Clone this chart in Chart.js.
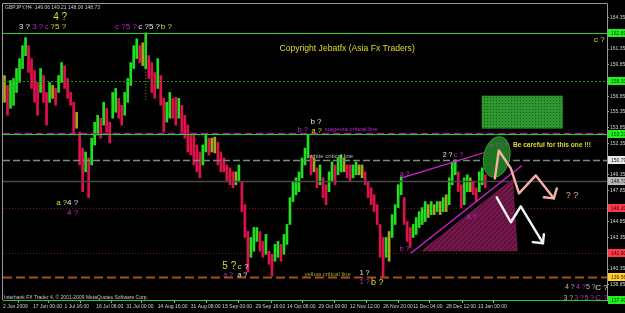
<!DOCTYPE html>
<html>
<head>
<meta charset="utf-8">
<script src="https://cdn.jsdelivr.net/npm/chart.js@4.4.1/dist/chart.umd.min.js"></script>
<style>
  html, body { margin: 0; padding: 0; background: #000; }
  #wrap { width: 625px; height: 313px; }
</style>
</head>
<body>
<div id="wrap"><canvas id="gbpjpy" width="625" height="313"></canvas></div>
<script>
// GBPJPY H4, 2 Jun 2009 -> mid Jan 2010, bar ranges
const highs = [
  158.82,157.88,158.35,158.54,159.49,160.44,161.67,162.43,161.67,160.44,
  159.30,158.16,159.49,158.82,157.21,158.16,157.88,157.59,158.82,160.06,
  159.77,158.54,157.21,156.27,155.32,153.42,151.90,151.53,150.96,152.85,
  154.37,155.03,154.75,156.27,155.70,154.37,157.21,157.59,156.64,155.98,
  157.21,158.54,160.06,161.67,162.33,161.67,161.95,162.90,160.72,160.06,
  159.11,160.44,158.82,156.64,156.27,157.21,
  156.64,156.74,156.64,155.98,155.03,154.09,153.14,153.14,152.19,151.53,
  152.19,153.14,152.85,152.85,152.95,152.47,151.53,150.96,150.29,150.01,
  149.63,149.63,150.29,148.68,146.50,143.94,143.37,144.32,144.32,143.94,
  142.99,143.66,142.05,141.76,142.71,142.99,142.71,143.66,144.61,147.17,
  148.68,149.06,149.63,150.96,151.90,153.23,151.24,150.96,150.01,150.29,
  149.06,148.40,149.63,150.58,150.29,
  150.96,151.24,150.96,150.29,150.29,150.29,150.58,150.29,150.29,149.63,
  148.68,148.11,147.45,146.50,144.61,143.37,143.37,143.94,145.55,146.50,
  148.40,149.16,147.17,144.89,144.32,144.61,145.27,145.84,146.22,146.79,
  146.50,146.79,146.50,146.79,146.79,147.17,147.45,149.06,150.58,150.77,
  149.63,148.40,149.06,149.35,149.06,148.68,148.11,149.63,150.01,149.35
];
const lows = [
  156.27,155.03,155.70,155.98,157.21,158.16,159.49,160.72,159.11,157.59,
  156.27,155.03,157.21,156.27,154.09,156.27,156.64,155.98,157.21,158.16,
  157.59,156.64,155.98,153.14,153.80,150.29,147.73,149.63,147.17,150.29,
  152.19,153.14,152.85,154.09,153.42,152.38,154.75,155.32,154.75,154.09,
  155.03,156.27,157.88,159.49,160.44,160.06,159.77,159.49,158.54,157.21,
  156.64,157.59,155.98,153.42,154.37,154.75,
  154.75,154.09,154.75,153.42,152.85,151.53,151.24,150.29,149.63,149.06,
  150.29,151.53,151.24,151.53,151.43,150.29,149.63,149.63,148.68,148.40,
  148.11,148.40,148.68,145.84,143.37,140.06,141.48,142.05,142.99,142.05,
  141.48,141.76,140.81,139.68,141.10,141.48,141.10,141.76,142.71,144.61,
  146.79,147.45,147.73,149.06,150.29,150.96,149.35,149.63,148.11,148.40,
  147.17,146.50,147.73,148.68,148.40,
  149.35,149.63,149.63,149.06,148.68,149.06,149.35,149.35,149.06,148.40,
  147.17,146.50,145.84,144.61,141.48,139.58,141.48,141.10,143.37,144.61,
  146.22,147.45,144.61,142.99,142.43,143.37,143.66,144.32,144.61,144.89,
  145.27,145.55,145.55,145.84,145.55,145.84,145.84,146.50,148.40,149.35,
  147.73,146.22,146.50,147.73,147.73,147.45,146.79,147.73,148.40,148.11
];

// time axis: bar number where each date label sits
const dateTicks = [-0.5, 9.5, 20, 30.5, 40.5, 51, 62, 72.5, 83.5, 94, 104.5, 115, 126, 136, 147, 157.5];
const dateLabels = ['2 Jun 2009', '17 Jun 00:00', '1 Jul 16:00', '16 Jul 08:00', '31 Jul 00:00',
  '14 Aug 16:00', '31 Aug 08:00', '15 Sep 00:00', '29 Sep 16:00', '14 Oct 08:00', '29 Oct 00:00',
  '12 Nov 12:00', '26 Nov 20:00', '11 Dec 04:00', '28 Dec 12:00', '13 Jan 00:00'];

const priceTicks = [164.35, 162.85, 161.35, 159.85, 158.35, 156.85, 155.35, 153.85, 152.35,
  150.85, 149.35, 147.85, 146.35, 144.85, 143.35, 141.85, 140.35, 138.85];

// horizontal levels and their price tags
const levelPrices = [162.89, 158.33, 153.38, 153.27, 150.79, 148.73, 146.20, 141.90, 139.56, 137.40];
const levelStyle = [
  { color: '#22d022', width: 1, dash: [], tag: '#22ee22', ink: '#0a4a0a' },
  { color: '#1c9a1c', width: 1, dash: [2, 2], tag: '#22ee22', ink: '#0a4a0a' },
  { color: '#b012c0', width: 1, dash: [7, 4], tag: null },
  { color: '#22d022', width: 1, dash: [], tag: '#22ee22', ink: '#0a4a0a' },
  { color: '#7c8a7c', width: 1.5, dash: [7, 3], tag: '#e8e8e8', ink: '#222' },
  { color: '#4a4a4a', width: 1.5, dash: [], tag: '#b8b8b8', ink: '#222' },
  { color: '#701818', width: 1, dash: [1, 2], tag: '#ff3a4a', ink: '#3a0000' },
  { color: '#701818', width: 1, dash: [1, 2], tag: '#ff3a4a', ink: '#3a0000' },
  { color: '#a0521e', width: 2, dash: [9, 4], tag: '#ffd030', ink: '#3a2a00' },
  { color: '#22d022', width: 1, dash: [], tag: '#22ee22', ink: '#0a4a0a' }
];

const YEL = '#dede22', MAG = '#c02ad0', WHT = '#e8e8e8', GRY = '#b8b8b8';
// [text, bar, price, colour, size]
const notes = [
  ['4 ?', 16.2, 164.41, YEL, 10],
  ['3 ?', 4.8, 163.46, WHT, 8], ['3 ?', 9.2, 163.46, MAG, 8],
  ['c', 13.5, 163.46, MAG, 7], ['?', 15.2, 163.46, YEL, 8], ['5 ?', 16.8, 163.46, YEL, 8],
  ['c ?5 ?', 36.8, 163.46, MAG, 8], ['c ?5 ?', 44.5, 163.46, WHT, 8], ['b ?', 52, 163.46, YEL, 8],
  ['Copyright Jebatfx (Asia Fx Traders)', 91.5, 161.37, YEL, 8.6],
  ['c ?', 196.2, 162.27, YEL, 8],
  ['b ?', 101.8, 154.43, WHT, 8],
  ['b ?', 97.5, 153.62, MAG, 7.5], ['a ?', 102.2, 153.52, YEL, 7.5],
  ['magenta critical line', 106.5, 153.66, MAG, 6],
  ['white critical line', 101.5, 151.10, GRY, 6],
  ['a ?', 131.5, 149.38, MAG, 7],
  ['2 ?', 145.8, 151.19, WHT, 7], ['c ?', 149.5, 151.19, MAG, 7],
  ['a ? ? ?', 161.5, 152.14, MAG, 6],
  ['Be careful for this one !!!', 169.2, 152.14, YEL, 6.6, 'bold'],
  ['? ?', 186.8, 147.39, '#f0a080', 9],
  ['a ?', 17.2, 146.63, YEL, 8], ['4 ?', 20.8, 146.63, WHT, 8],
  ['4 ?', 20.8, 145.77, MAG, 8],
  ['5 ?', 72.5, 140.59, YEL, 10], ['c', 77.5, 140.59, YEL, 8], ['?', 79.8, 140.59, WHT, 8],
  ['a ?', 72.8, 139.78, MAG, 7], ['a ?', 77.5, 139.78, WHT, 7],
  ['yellow critical line', 99.8, 139.83, '#a8a020', 6],
  ['1 ?', 118.2, 139.97, WHT, 7],
  ['1 ?', 118.2, 139.11, MAG, 7], ['b ?', 122, 139.11, YEL, 9],
  ['b ?', 131.5, 142.30, MAG, 7],
  ['a ?', 153.8, 145.30, MAG, 7],
  ['4 ?', 186.5, 138.59, GRY, 7], ['4 ?', 190.2, 138.59, MAG, 7], ['5 ?', 193.5, 138.59, GRY, 7],
  ['C ?', 196.6, 138.59, WHT, 8],
  ['3 ?', 186, 137.62, GRY, 7], ['3 ?', 189.6, 137.62, MAG, 7], ['5 ?', 193, 137.62, MAG, 7],
  ['C ?', 196.6, 137.62, MAG, 8]
];

const bars = highs.map((h, i) => ({ x: i, y: [lows[i], h] }));
const barColors = highs.map((h, i) => {
  if (i === 0) return '#a6a622';
  const m = (h + lows[i]) / 2, p = (highs[i - 1] + lows[i - 1]) / 2;
  if (m - p > 0.15) return '#1fe01f';
  if (p - m > 0.15) return '#e0104c';
  return '#a6a622';
});

function makePattern(ctx, size, bg, fg, draw) {
  const c = document.createElement('canvas');
  c.width = size; c.height = size;
  const g = c.getContext('2d');
  g.fillStyle = bg; g.fillRect(0, 0, size, size);
  g.fillStyle = fg; g.strokeStyle = fg;
  draw(g);
  return ctx.createPattern(c, 'repeat');
}

function polyline(ctx, pts, X, Y) {
  ctx.beginPath();
  pts.forEach((p, i) => i ? ctx.lineTo(X(p[0]), Y(p[1])) : ctx.moveTo(X(p[0]), Y(p[1])));
  ctx.stroke();
}

const mt4 = {
  id: 'mt4',
  beforeDraw(chart) {
    const ctx = chart.ctx;
    ctx.save();
    ctx.fillStyle = '#000';
    ctx.fillRect(0, 0, chart.width, chart.height);
    ctx.restore();
  },
  afterDatasetsDraw(chart) {
    const ctx = chart.ctx, a = chart.chartArea;
    const X = v => chart.scales.x.getPixelForValue(v);
    const Y = v => chart.scales.y.getPixelForValue(v);
    ctx.save();
    ctx.beginPath(); ctx.rect(a.left, a.top, a.right - a.left, a.bottom - a.top + 1); ctx.clip();

    // levels
    levelPrices.forEach((p, i) => {
      const s = levelStyle[i], y = Math.round(Y(p)) + 0.5;
      ctx.strokeStyle = s.color; ctx.lineWidth = s.width; ctx.setLineDash(s.dash);
      ctx.beginPath(); ctx.moveTo(a.left, y); ctx.lineTo(a.right, y); ctx.stroke();
    });
    ctx.setLineDash([1, 2]);
    ctx.strokeStyle = '#8a8a30'; ctx.lineWidth = 1;
    polyline(ctx, [[47, 162.9], [47, 156.4]], X, Y);
    ctx.setLineDash([]);

    // green target box
    ctx.fillStyle = makePattern(ctx, 3, '#2e962e', '#1a5c1a', g => g.fillRect(1, 1, 1, 1));
    ctx.fillRect(X(158.8), Y(156.90), X(185.8) - X(158.8), Y(153.76) - Y(156.90));

    // striped triangle
    ctx.fillStyle = makePattern(ctx, 5, '#661240', '#84205a', g => {
      g.lineWidth = 1; g.beginPath(); g.moveTo(0, 5); g.lineTo(5, 0); g.stroke();
    });
    ctx.beginPath();
    ctx.moveTo(X(138.5), Y(142.06)); ctx.lineTo(X(169.2), Y(149.0)); ctx.lineTo(X(170.8), Y(142.06));
    ctx.closePath(); ctx.fill();

    // magenta trend lines
    ctx.strokeStyle = '#e020e0'; ctx.lineWidth = 1.2;
    polyline(ctx, [[135.2, 141.87], [172.2, 150.24]], X, Y);
    polyline(ctx, [[132.2, 149.05], [165.2, 151.95]], X, Y);

    // green ellipse
    ctx.save();
    ctx.translate(X(163.8), Y(151.05));
    ctx.rotate(0.22);
    ctx.beginPath();
    ctx.ellipse(0, 0, X(168.1) - X(163.8), Y(149.1) - Y(151.05), 0, 0, Math.PI * 2);
    ctx.fillStyle = '#1f741f'; ctx.fill();
    ctx.strokeStyle = '#2e962e'; ctx.lineWidth = 1; ctx.stroke();
    ctx.restore();

    // scenario arrows
    ctx.lineCap = 'round'; ctx.lineJoin = 'round'; ctx.lineWidth = 2.4;
    ctx.strokeStyle = '#f6b0a8';
    polyline(ctx, [[163.2, 149.0], [164.5, 151.67], [168.5, 149.96], [171.2, 147.58], [176.8, 149.29], [182.8, 147.10]], X, Y);
    polyline(ctx, [[179.5, 147.20], [182.8, 147.10], [183.8, 148.05]], X, Y);
    ctx.strokeStyle = '#f4f4f4';
    polyline(ctx, [[163.8, 147.20], [168.5, 144.82], [171.8, 146.34], [179.2, 142.82]], X, Y);
    polyline(ctx, [[175.8, 142.92], [179.2, 142.82], [179.5, 143.68]], X, Y);

    // wave labels
    ctx.textBaseline = 'middle'; ctx.textAlign = 'left';
    notes.forEach(n => {
      ctx.font = (n[5] || 'normal') + ' ' + n[4] + 'px "Liberation Sans", Arial, sans-serif';
      ctx.fillStyle = n[3];
      ctx.fillText(n[0], X(n[1]), Y(n[2]));
    });
    ctx.restore();
  },
  afterDraw(chart) {
    const ctx = chart.ctx, a = chart.chartArea;
    const Y = v => chart.scales.y.getPixelForValue(v);
    ctx.save();
    ctx.strokeStyle = '#9a9a9a'; ctx.lineWidth = 1;
    ctx.beginPath();
    ctx.moveTo(a.left - 0.5, a.bottom); ctx.lineTo(a.left - 0.5, a.top - 0.5); ctx.lineTo(a.right + 0.5, a.top - 0.5);
    ctx.stroke();

    ctx.textBaseline = 'middle'; ctx.textAlign = 'left';
    ctx.font = '5px "Liberation Sans", Arial, sans-serif';
    levelPrices.forEach((p, i) => {
      const s = levelStyle[i];
      if (!s.tag) return;
      const y = Math.round(Y(p));
      ctx.fillStyle = s.tag;
      ctx.fillRect(a.right + 1, y - 4, chart.width - a.right - 1, 8);
      ctx.fillStyle = s.ink;
      ctx.fillText(p.toFixed(2), a.right + 4, y + 0.5);
    });

    ctx.fillStyle = '#c8c8c8';
    ctx.fillText('GBPJPY,H4  149.06 149.21 148.06 148.73', a.left + 2, a.top + 4);
    ctx.fillText('Interbank FX Trader 4, \u00a9 2001-2009 MetaQuotes Software Corp.', a.left + 1, a.bottom - 2);
    ctx.restore();
  }
};

new Chart(document.getElementById('gbpjpy'), {
  type: 'bar',
  data: {
    datasets: [{
      data: bars,
      backgroundColor: barColors,
      barThickness: 2,
      borderWidth: 0
    }]
  },
  options: {
    responsive: false,
    animation: false,
    devicePixelRatio: 1,
    layout: { padding: { left: 3, top: 3, right: 0, bottom: 0 } },
    plugins: { legend: { display: false }, tooltip: { enabled: false } },
    scales: {
      x: {
        type: 'linear', min: -0.5, max: 200.5, offset: false,
        afterBuildTicks: s => { s.ticks = dateTicks.map(v => ({ value: v })); },
        afterFit: s => { s.height = 13; },
        grid: { drawOnChartArea: false, tickLength: 3, color: '#9a9a9a' },
        border: { color: '#9a9a9a' },
        ticks: {
          autoSkip: false, maxRotation: 0, align: 'start', padding: 1,
          color: '#d0d0d0', font: { family: 'Liberation Sans', size: 5 },
          callback: (v, i) => dateLabels[i]
        }
      },
      y: {
        position: 'right', min: 137.40, max: 165.65,
        afterBuildTicks: s => { s.ticks = priceTicks.map(v => ({ value: v })); },
        afterFit: s => { s.width = 18; },
        grid: { drawOnChartArea: false, tickLength: 2, color: '#9a9a9a' },
        border: { color: '#9a9a9a' },
        ticks: {
          padding: 1, color: '#d0d0d0', font: { family: 'Liberation Sans', size: 5 },
          callback: v => v.toFixed(2)
        }
      }
    }
  },
  plugins: [mt4]
});
</script>
</body>
</html>
